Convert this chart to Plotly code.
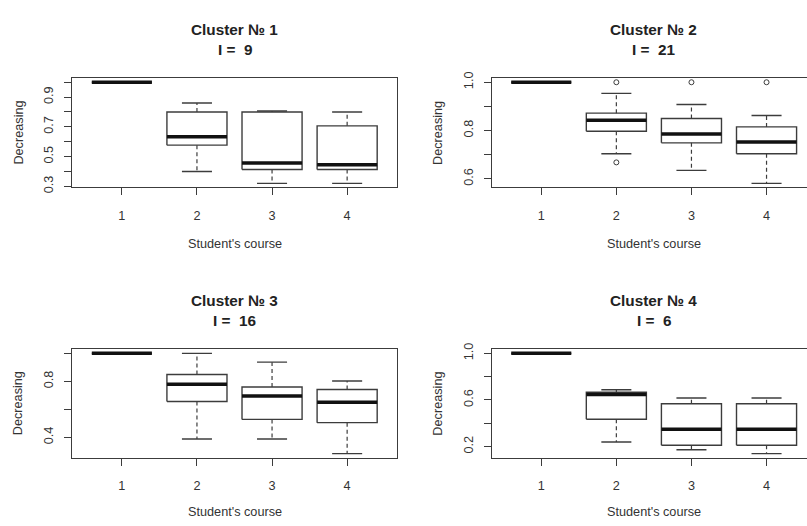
import plotly.graph_objects as go

W, H = 807, 526

# ---------------- data ----------------
courses = [1, 2, 3, 4]
course_labels = ["1", "2", "3", "4"]

cluster_titles = ["Cluster № 1", "Cluster № 2", "Cluster № 3", "Cluster № 4"]
cluster_sizes = [9, 21, 16, 6]

# Cluster 1: lower whisker, Q1, median, Q3, upper whisker per course
c1_low = [1.0, 0.40, 0.32, 0.32]
c1_q1 = [1.0, 0.577, 0.413, 0.413]
c1_med = [1.0, 0.633, 0.457, 0.446]
c1_q3 = [1.0, 0.80, 0.80, 0.707]
c1_high = [1.0, 0.86, 0.807, 0.80]
c1_out_x = []
c1_out_y = []

# Cluster 2
c2_low = [1.0, 0.704, 0.635, 0.581]
c2_q1 = [1.0, 0.797, 0.749, 0.704]
c2_med = [1.0, 0.843, 0.786, 0.752]
c2_q3 = [1.0, 0.872, 0.850, 0.815]
c2_high = [1.0, 0.954, 0.908, 0.862]
c2_out_x = [2, 2, 3, 4]
c2_out_y = [1.0, 0.668, 1.0, 1.0]

# Cluster 3
c3_low = [1.0, 0.388, 0.388, 0.284]
c3_q1 = [1.0, 0.656, 0.528, 0.505]
c3_med = [1.0, 0.779, 0.695, 0.651]
c3_q3 = [1.0, 0.849, 0.760, 0.742]
c3_high = [1.0, 1.0, 0.937, 0.802]
c3_out_x = []
c3_out_y = []

# Cluster 4
c4_low = [1.0, 0.239, 0.173, 0.14]
c4_q1 = [1.0, 0.434, 0.212, 0.212]
c4_med = [1.0, 0.646, 0.349, 0.349]
c4_q3 = [1.0, 0.666, 0.567, 0.567]
c4_high = [1.0, 0.688, 0.617, 0.617]
c4_out_x = []
c4_out_y = []

# y tick values / labels
c1_yticks = [0.3, 0.4, 0.5, 0.6, 0.7, 0.8, 0.9, 1.0]
c1_yticklabels = ["0.3", "", "0.5", "", "0.7", "", "0.9", ""]
c2_yticks = [0.6, 0.7, 0.8, 0.9, 1.0]
c2_yticklabels = ["0.6", "", "0.8", "", "1.0"]
c3_yticks = [0.4, 0.6, 0.8, 1.0]
c3_yticklabels = ["0.4", "", "0.8", ""]
c4_yticks = [0.2, 0.4, 0.6, 0.8, 1.0]
c4_yticklabels = ["0.2", "", "0.6", "", "1.0"]

x_title = "Student's course"
y_title = "Decreasing"

clusters = [
    (c1_low, c1_q1, c1_med, c1_q3, c1_high, c1_out_x, c1_out_y, c1_yticks, c1_yticklabels),
    (c2_low, c2_q1, c2_med, c2_q3, c2_high, c2_out_x, c2_out_y, c2_yticks, c2_yticklabels),
    (c3_low, c3_q1, c3_med, c3_q3, c3_high, c3_out_x, c3_out_y, c3_yticks, c3_yticklabels),
    (c4_low, c4_q1, c4_med, c4_q3, c4_high, c4_out_x, c4_out_y, c4_yticks, c4_yticklabels),
]

# ---------------- layout geometry (pixels) ----------------
FONT = "Liberation Sans, Arial, sans-serif"
TXT = "#333333"
LINE = "#3c3c3c"
BOXW = 0.4       # half box width
STAPLE = 0.2     # half staple width

PLOT_W = 324.4   # full width of one plot region
panels = [
    # left, top, bottom (pixels)
    (72.3, 73.0, 185.0),
    (491.7, 73.0, 185.0),
    (72.3, 351.0, 462.0),
    (491.7, 351.0, 462.0),
]
XMIN, XMAX = 0.34, 4.66


def px(x):
    return x / W


def py(y):
    return 1 - y / H


fig = go.Figure()
annotations = []
layout_axes = {}

for i, (low, q1, med, q3, high, ox, oy, yt, ytl) in enumerate(clusters):
    n = i + 1
    xa = "x" if n == 1 else f"x{n}"
    ya = "y" if n == 1 else f"y{n}"
    left, top, bottom = panels[i]
    right_full = left + PLOT_W
    right = min(right_full, W)
    xmax = XMIN + (XMAX - XMIN) * (right - left) / PLOT_W

    box_x, box_y = [], []
    med_x, med_y = [], []
    wh_x, wh_y = [], []
    st_x, st_y = [], []
    for c, lo, a, m, b, hi in zip(courses, low, q1, med, q3, high):
        box_x += [c - BOXW, c + BOXW, c + BOXW, c - BOXW, c - BOXW, None]
        box_y += [a, a, b, b, a, None]
        med_x += [c - BOXW, c + BOXW, None]
        med_y += [m, m, None]
        wh_x += [c, c, None, c, c, None]
        wh_y += [b, hi, None, a, lo, None]
        st_x += [c - STAPLE, c + STAPLE, None, c - STAPLE, c + STAPLE, None]
        st_y += [hi, hi, None, lo, lo, None]

    fig.add_trace(go.Scatter(x=wh_x, y=wh_y, mode="lines", xaxis=xa, yaxis=ya,
                             line=dict(color=LINE, width=1.2, dash="4px,3px"),
                             hoverinfo="skip"))
    fig.add_trace(go.Scatter(x=st_x, y=st_y, mode="lines", xaxis=xa, yaxis=ya,
                             line=dict(color=LINE, width=1.4), hoverinfo="skip"))
    fig.add_trace(go.Scatter(x=box_x, y=box_y, mode="lines", xaxis=xa, yaxis=ya,
                             line=dict(color=LINE, width=1.4), hoverinfo="skip"))
    fig.add_trace(go.Scatter(x=med_x, y=med_y, mode="lines", xaxis=xa, yaxis=ya,
                             line=dict(color="#111111", width=3.5), hoverinfo="skip"))
    if ox:
        fig.add_trace(go.Scatter(x=ox, y=oy, mode="markers", xaxis=xa, yaxis=ya,
                                 marker=dict(symbol="circle-open", size=5,
                                             color=LINE, line=dict(width=1)),
                                 hoverinfo="skip"))

    allv = low + high + oy
    lo_v, hi_v = min(allv), max(allv)
    pad = 0.04 * (hi_v - lo_v)

    axkey = "xaxis" if n == 1 else f"xaxis{n}"
    aykey = "yaxis" if n == 1 else f"yaxis{n}"
    layout_axes[axkey] = dict(
        domain=[px(left), px(right)], range=[XMIN, xmax], anchor=ya,
        tickmode="array", tickvals=courses, ticktext=course_labels,
        ticks="outside", ticklen=7, tickwidth=1, tickcolor=LINE,
        showline=True, linecolor=LINE, linewidth=1, mirror=True,
        showgrid=False, zeroline=False, ticklabelstandoff=9,
        tickfont=dict(family=FONT, size=12.7, color=TXT), fixedrange=True,
    )
    layout_axes[aykey] = dict(
        domain=[py(bottom), py(top)], range=[lo_v - pad, hi_v + pad], anchor=xa,
        tickmode="array", tickvals=yt, ticktext=ytl, tickangle=-90,
        ticks="outside", ticklen=7, tickwidth=1, tickcolor=LINE,
        showline=True, linecolor=LINE, linewidth=1, mirror=(right_full <= W),
        showgrid=False, zeroline=False, ticklabelstandoff=6,
        tickfont=dict(family=FONT, size=12.7, color=TXT), fixedrange=True,
    )

    cx = left + PLOT_W / 2
    annotations.append(dict(x=px(cx), y=py(top - 50), xref="paper", yref="paper",
                            text=f"<b>{cluster_titles[i]}</b>", showarrow=False,
                            xanchor="center", yanchor="middle",
                            font=dict(family=FONT, size=15.3, color="#222222")))
    annotations.append(dict(x=px(cx), y=py(top - 29.5), xref="paper", yref="paper",
                            text=f"<b>I =\u00a0\u00a0{cluster_sizes[i]}</b>", showarrow=False,
                            xanchor="center", yanchor="middle",
                            font=dict(family=FONT, size=15.3, color="#222222")))
    annotations.append(dict(x=px(cx), y=py(min(bottom + 57.5, H - 8)), xref="paper",
                            yref="paper", text=x_title, showarrow=False,
                            xanchor="center", yanchor="middle",
                            font=dict(family=FONT, size=12.7, color=TXT)))
    annotations.append(dict(x=px(left - 53.5), y=py((top + bottom) / 2), xref="paper",
                            yref="paper", text=y_title, showarrow=False, textangle=-90,
                            xanchor="center", yanchor="middle",
                            font=dict(family=FONT, size=12.7, color=TXT)))

fig.update_layout(
    width=W, height=H,
    margin=dict(l=0, r=0, t=0, b=0),
    paper_bgcolor="white", plot_bgcolor="white",
    showlegend=False,
    annotations=annotations,
    **layout_axes,
)

fig.write_html("out.html",
               config={"displayModeBar": False, "staticPlot": True},
               post_script="document.body.style.margin='0';document.body.style.overflow='hidden';")
